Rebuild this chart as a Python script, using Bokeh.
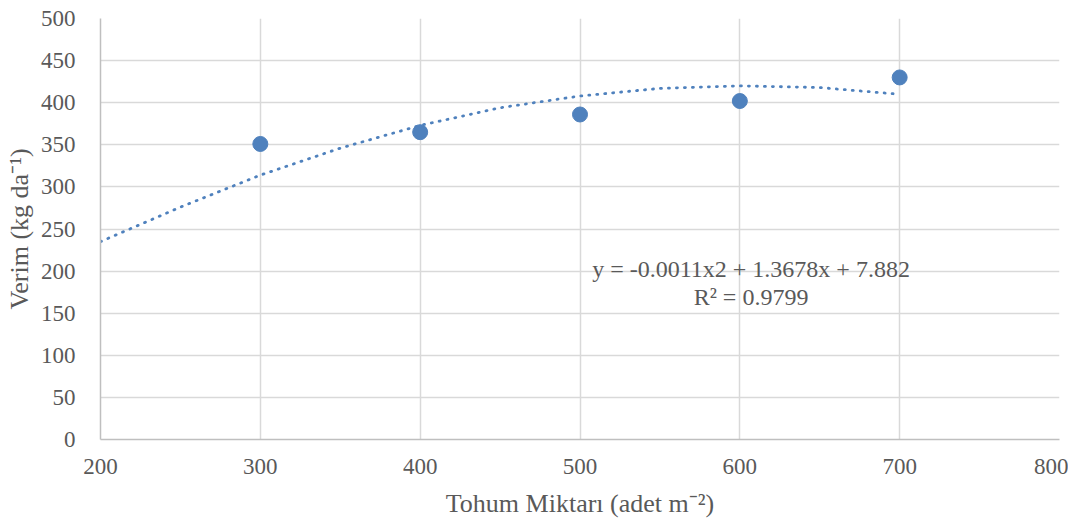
from bokeh.plotting import figure
from bokeh.models import FixedTicker, Range1d
from bokeh.core.properties import value
from bokeh.embed import file_html
from bokeh.resources import INLINE

# Data
seed_rate = [300, 400, 500, 600, 700]
yield_vals = [351, 365, 386, 402, 430]

# Polynomial trendline
trend_x = [200, 250, 300, 350, 400, 450, 500, 550, 600, 650, 700]
trend_y = [235, 276, 314, 346, 373, 394, 408, 417, 420, 418, 410]

x_ticks = [200, 300, 400, 500, 600, 700, 800]
y_ticks = [0, 50, 100, 150, 200, 250, 300, 350, 400, 450, 500]

eq_lines = ["y = -0.0011x2 + 1.3678x + 7.882", "R² = 0.9799"]
eq_x = [607, 607]
eq_y = [203, 169]

BLUE = "#4f81bd"
FONT = "Liberation Serif"
TXT = "#595959"

p = figure(width=1068, height=521, output_backend="svg", toolbar_location=None,
           x_range=Range1d(200, 800), y_range=Range1d(0, 500),
           min_border_left=100, min_border_right=9, min_border_top=18,
           min_border_bottom=82)
p.outline_line_color = None
p.background_fill_color = "white"

p.line(trend_x, trend_y, line_color=BLUE, line_width=2.8, line_dash="1 7",
       line_cap="round")
p.scatter(seed_rate, yield_vals, size=15, fill_color=BLUE, line_color=BLUE)

p.text(x=eq_x, y=eq_y, text=eq_lines, text_font=value(FONT),
       text_font_size="24px", text_color=TXT, text_align="center",
       text_baseline="middle")

p.xaxis.major_tick_line_color = None
p.yaxis.major_tick_line_color = None
p.xaxis.minor_tick_line_color = None
p.yaxis.minor_tick_line_color = None
p.axis.axis_line_color = "#bfbfbf"
p.axis.axis_line_width = 1.5
p.axis.major_label_text_font = FONT
p.axis.major_label_text_font_size = "23px"
p.axis.major_label_text_color = TXT
p.axis.axis_label_text_font = FONT
p.axis.axis_label_text_font_size = "26px"
p.axis.axis_label_text_color = TXT
p.axis.axis_label_text_font_style = "normal"

p.xaxis.ticker = FixedTicker(ticks=x_ticks)
p.yaxis.ticker = FixedTicker(ticks=y_ticks)
p.xaxis.axis_label = "Tohum Miktarı (adet m⁻²)"
p.yaxis.axis_label = "Verim (kg da⁻¹)"
p.xaxis.major_label_standoff = 13
p.yaxis.major_label_standoff = 19
p.xaxis.axis_label_standoff = 12
p.yaxis.axis_label_standoff = 4

p.xgrid.ticker = FixedTicker(ticks=x_ticks)
p.ygrid.ticker = FixedTicker(ticks=y_ticks)
p.grid.grid_line_color = "#d9d9d9"
p.grid.grid_line_width = 1.5

open("out.html", "w").write(file_html(p, INLINE))
